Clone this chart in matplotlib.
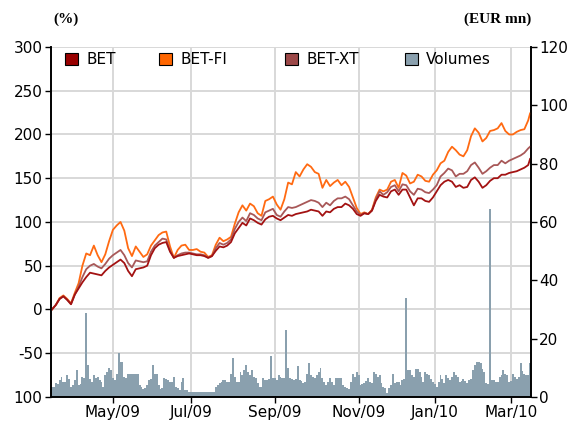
import numpy as np
import pandas as pd
import matplotlib
matplotlib.use("Agg")
from matplotlib import pyplot as plt
from matplotlib.patches import Patch

plt.rcParams['font.family'] = 'DejaVu Sans'
plt.rcParams['axes.unicode_minus'] = False

# trading days of the Bucharest exchange, Mar/09 - Mar/10
holidays = ['2009-04-20', '2009-05-01', '2009-06-08', '2009-12-01',
            '2009-12-24', '2009-12-25', '2009-12-31', '2010-01-01']
days = pd.bdate_range('2009-03-17', '2010-03-15')
days = days[~days.isin(pd.to_datetime(holidays))]

# index levels (% change), read every second trading day + last day
bet = [0, 5, 12, 15, 11, 6, 17, 24, 31, 37,
       42, 41, 40, 39, 44, 48, 51, 54, 57, 53,
       44, 38, 46, 47, 48, 50, 62, 70, 74, 76,
       77, 66, 59, 61, 62, 63, 64, 63, 62, 62,
       61, 59, 61, 67, 72, 71, 73, 77, 87, 93,
       99, 96, 104, 102, 99, 97, 103, 106, 107, 104,
       102, 105, 108, 107, 109, 110, 111, 112, 114, 113,
       112, 107, 112, 111, 115, 117, 117, 121, 119, 115,
       109, 107, 110, 109, 113, 124, 131, 129, 128, 135,
       137, 131, 137, 137, 128, 119, 127, 127, 124, 123,
       128, 135, 142, 146, 148, 146, 140, 142, 139, 140,
       148, 151, 146, 139, 142, 147, 150, 150, 154, 154,
       156, 157, 158, 160, 162, 165, 172]
bet_fi = [0, 5, 13, 16, 12, 7, 19, 30, 50, 64,
          62, 73, 62, 54, 63, 78, 91, 96, 100, 90,
          70, 61, 72, 66, 60, 63, 73, 79, 85, 88,
          89, 72, 59, 68, 73, 74, 68, 68, 69, 66,
          65, 60, 62, 74, 82, 78, 80, 83, 98, 111,
          119, 113, 121, 118, 110, 107, 124, 126, 129, 120,
          114, 126, 145, 143, 157, 152, 160, 166, 163, 157,
          155, 139, 148, 141, 145, 148, 142, 146, 140, 128,
          116, 109, 111, 109, 114, 128, 137, 135, 137, 146,
          148, 139, 156, 153, 144, 146, 154, 152, 147, 146,
          154, 159, 167, 170, 180, 186, 182, 177, 175, 182,
          198, 207, 202, 192, 196, 204, 205, 207, 213, 204,
          200, 200, 203, 205, 206, 216, 224]
bet_xt = [0, 5, 12, 15, 11, 6, 17, 26, 37, 46,
          50, 52, 49, 47, 52, 58, 62, 65, 68, 62,
          53, 48, 56, 55, 54, 55, 66, 73, 77, 81,
          80, 67, 59, 62, 64, 65, 65, 64, 63, 63,
          62, 59, 61, 70, 76, 74, 76, 80, 92, 100,
          105, 101, 110, 108, 104, 102, 111, 113, 115, 108,
          106, 112, 117, 116, 117, 119, 121, 123, 125, 124,
          122, 117, 122, 119, 124, 127, 127, 129, 126, 119,
          112, 108, 110, 109, 113, 126, 135, 131, 134, 140,
          142, 135, 143, 142, 135, 131, 138, 137, 134, 133,
          137, 142, 152, 156, 161, 159, 152, 155, 155, 158,
          165, 168, 162, 155, 158, 162, 165, 165, 170, 167,
          170, 172, 174, 176, 179, 184, 186]

# daily traded volume (EUR mn)
volumes = [3.5, 3.5, 4.8, 4.5, 5.8, 7, 5, 5, 7.5, 6,
           3.5, 4, 5.8, 9.3, 4, 4.5, 7, 6.5, 28.7, 11,
           6, 5, 7.5, 6.5, 7, 5.8, 5, 3.5, 7.5, 8.5,
           10, 9.3, 6.5, 5.8, 8, 15.2, 12, 12, 7, 6.5,
           8, 8, 8, 8, 8, 8, 4, 3.5, 2.8, 3,
           4, 5.8, 6, 11, 8, 8, 4, 2.8, 3, 6.5,
           6, 5.8, 5, 5, 7, 3.5, 3, 2.3, 5, 6.5,
           2.3, 2.3, 1.8, 1.8, 1.8, 1.8, 1.8, 1.8, 1.8, 1.8,
           1.8, 1.8, 1.8, 1.8, 1.8, 1.8, 3.5, 4, 4.8, 5,
           5.8, 5.8, 5, 5, 8, 13.3, 7, 5, 5, 8.6,
           7.5, 9.3, 11, 8.6, 7.5, 9.3, 7, 6.5, 4.8, 3.5,
           3.5, 6.5, 5.8, 5.8, 6, 14, 6.5, 6.5, 5.8, 7.5,
           7, 6.5, 6.5, 23, 10, 6.5, 6, 5.8, 6, 10.5,
           5.8, 5.5, 4.8, 5, 8, 11.8, 7.5, 7, 6.5, 7.5,
           8.6, 10, 6.5, 5, 4, 5, 6.5, 5, 4, 6.5,
           6.5, 6.5, 6.5, 4, 3.5, 3, 2.8, 5, 8, 7,
           8.6, 7.5, 4, 4.5, 4.8, 5.5, 6.5, 5, 4.8, 8.7,
           8, 6.9, 7.5, 4.8, 3.5, 2.9, 1.2, 2.9, 4, 8,
           4.8, 5, 5.2, 4, 5.7, 6, 34, 9.2, 9.2, 7.5,
           6.9, 9.7, 9.7, 8.7, 7, 5.2, 8.7, 8, 7.4, 6,
           5.2, 4.5, 3.4, 5, 7.4, 6, 4.8, 7.4, 6.5, 5.7,
           7, 8.7, 7.5, 6.9, 5.2, 5.5, 6.3, 5.5, 4.8, 5.7,
           6, 9.2, 11, 12.1, 12, 11.5, 9.5, 8.7, 4.8, 4.5,
           64.4, 5.7, 5.7, 5.2, 5.2, 6.9, 7.5, 9.2, 8, 7.4,
           5.2, 5.5, 8, 7, 6.3, 7, 11.5, 9, 8, 7.4,
           7.4, 11.5]

tick_months = ['2009-05', '2009-07', '2009-09', '2009-11', '2010-01', '2010-03']

n = len(days)
idx = np.arange(n)
line_pos = np.r_[np.arange(0, n - 1, 2), n - 1]

left_lim = (-100, 300)
right_lim = (0, 120)
scale = (left_lim[1] - left_lim[0]) / (right_lim[1] - right_lim[0])

c_bet = '#a31212'
c_fi = '#ff6a12'
c_xt = '#a85858'
c_vol = '#8aa0ae'

fig = plt.figure(figsize=(5.71, 4.25), dpi=100)
ax = fig.add_axes([0.0893, 0.066, 0.8407, 0.8235])
ax2 = ax.twinx()

# volume bars drawn in left-axis units so that grid stays behind them
ax.bar(idx, np.array(volumes) * scale, bottom=left_lim[0], width=1.0,
       color=c_vol, linewidth=0, zorder=2)
ax.plot(line_pos, bet_fi, color=c_fi, lw=1.3, zorder=3)
ax.plot(line_pos, bet_xt, color=c_xt, lw=1.3, zorder=4)
ax.plot(line_pos, bet, color=c_bet, lw=1.3, zorder=5)

ax.set_xlim(-0.5, n - 0.5)
ax.set_ylim(*left_lim)
ax2.set_ylim(*right_lim)

ax.set_yticks(np.arange(-100, 301, 50))
ax.set_yticklabels(['100' if v == -100 else str(v) for v in range(-100, 301, 50)])
ax2.set_yticks(np.arange(0, 121, 20))

ticks = [int(np.argmax(days.strftime('%Y-%m') == m)) for m in tick_months]
ax.set_xticks(ticks)
ax.set_xticklabels([days[t].strftime('%b/%y') for t in ticks])

ax.set_axisbelow(True)
ax.grid(color='#d8d8d8', lw=1.4, zorder=0)

for a in (ax, ax2):
    a.spines['top'].set_visible(False)
    for s in ('left', 'right', 'bottom'):
        a.spines[s].set_linewidth(1.2)
ax.tick_params(axis='both', labelsize=11, length=4, width=1, pad=2)
ax2.tick_params(axis='y', labelsize=11, length=4, width=1, pad=2)

# legend entries sit in fixed-width slots along the top
entries = [('BET', '#990000', 0.029), ('BET-FI', '#ff6600', 0.225),
           ('BET-XT', '#9c4848', 0.487), ('Volumes', c_vol, 0.737)]
legs = []
for label, col, xpos in entries:
    leg = ax.legend(handles=[Patch(facecolor=col, edgecolor='black', lw=0.8, label=label)],
                    loc='upper left', bbox_to_anchor=(xpos, 0.985), frameon=False,
                    fontsize=11, handlelength=0.85, handleheight=0.85,
                    handletextpad=0.55, borderpad=0, borderaxespad=0)
    legs.append(leg)
for leg in legs[:-1]:
    ax.add_artist(leg)

fig.text(0.115, 0.955, '(%)', family='Liberation Serif', weight='bold',
         fontsize=11, ha='center', va='center')
fig.text(0.93, 0.955, '(EUR mn)', family='Liberation Serif', weight='bold',
         fontsize=11, ha='right', va='center')

fig.savefig('out.png', dpi=100)
